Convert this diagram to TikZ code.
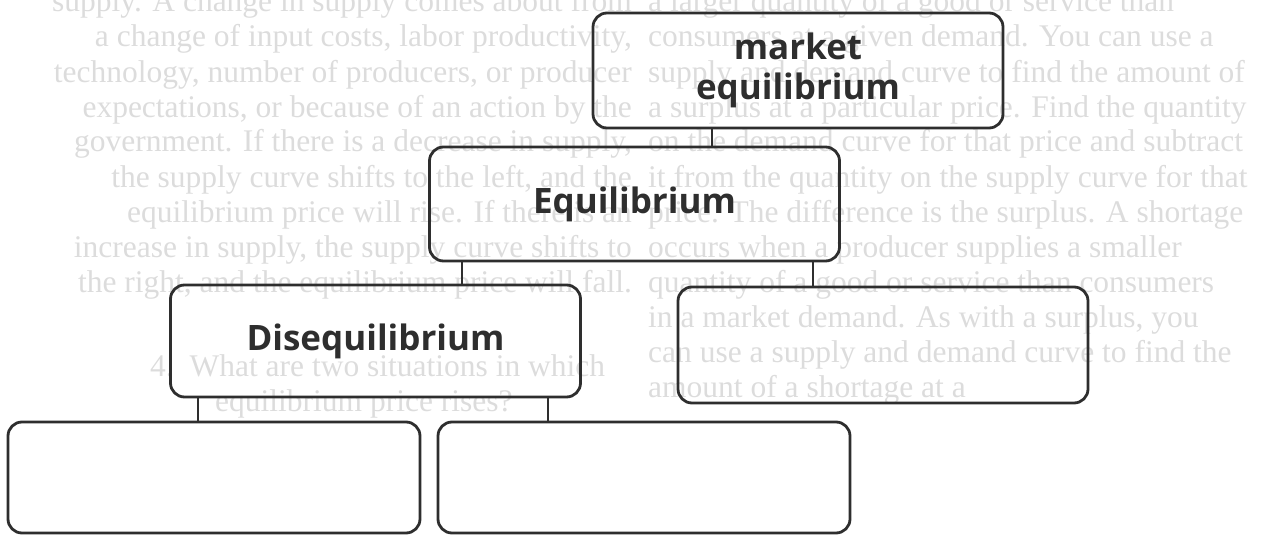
\documentclass[tikz,border=0pt]{standalone}
\usepackage{fontspec}
\setmainfont{Open Sans}
\newfontfamily\ghostfont{Liberation Serif}
\definecolor{boxgray}{HTML}{2E2E2E}
\definecolor{ghostgray}{HTML}{DCDCDC}

\begin{document}
\begin{tikzpicture}[x=1pt,y=-1pt,line join=bevel,
  box/.style={draw=boxgray,line width=2.8pt,rounded corners=14pt,inner sep=0pt,
    minimum width=410pt,text=boxgray,align=center,
    font=\fontsize{35}{42}\selectfont\bfseries},
  link/.style={draw=boxgray,line width=2.8pt},
  ghost/.style={text=ghostgray,inner sep=0pt,font=\ghostfont\fontsize{31.5}{35}\selectfont},
  ]
\useasboundingbox (0,0) rectangle (1266,535);
\clip (0,0) rectangle (1266,535);
%% text showing through from the back of the sheet
\node (ghost_l0) at (632,12) [ghost,anchor=base east] {supply. A change in supply comes about from};
\node (ghost_l1) at (632,47) [ghost,anchor=base east] {a change of input costs, labor productivity,};
\node (ghost_l2) at (632,82) [ghost,anchor=base east] {technology, number of producers, or producer};
\node (ghost_l3) at (632,117) [ghost,anchor=base east] {expectations, or because of an action by the};
\node (ghost_l4) at (632,151) [ghost,anchor=base east] {government. If there is a decrease in supply,};
\node (ghost_l5) at (632,187) [ghost,anchor=base east] {the supply curve shifts to the left, and the};
\node (ghost_l6) at (632,222) [ghost,anchor=base east] {equilibrium price will rise. If there is an};
\node (ghost_l7) at (632,257) [ghost,anchor=base east] {increase in supply, the supply curve shifts to};
\node (ghost_l8) at (632,292) [ghost,anchor=base east] {the right, and the equilibrium price will fall.};
\node (ghost_q0) at (150,376) [ghost,anchor=base west] {4.\ \ What are two situations in which};
\node (ghost_q1) at (215,411) [ghost,anchor=base west] {equilibrium price rises?};
%
\node (ghost_r0) at (648,12) [ghost,anchor=base west] {a larger quantity of a good or service than};
\node (ghost_r1) at (648,47) [ghost,anchor=base west] {consumers at a given demand. You can use a};
\node (ghost_r2) at (648,82) [ghost,anchor=base west] {supply and demand curve to find the amount of};
\node (ghost_r3) at (648,117) [ghost,anchor=base west] {a surplus at a particular price. Find the quantity};
\node (ghost_r4) at (648,151) [ghost,anchor=base west] {on the demand curve for that price and subtract};
\node (ghost_r5) at (648,187) [ghost,anchor=base west] {it from the quantity on the supply curve for that};
\node (ghost_r6) at (648,222) [ghost,anchor=base west] {price. The difference is the surplus. A shortage};
\node (ghost_r7) at (648,257) [ghost,anchor=base west] {occurs when a producer supplies a smaller};
\node (ghost_r8) at (648,292) [ghost,anchor=base west] {quantity of a good or service than consumers};
\node (ghost_r9) at (648,327) [ghost,anchor=base west] {in a market demand. As with a surplus, you};
\node (ghost_r10) at (648,362) [ghost,anchor=base west] {can use a supply and demand curve to find the};
\node (ghost_r11) at (648,397) [ghost,anchor=base west] {amount of a shortage at a};
%% concept map
\node (node_0) at (798,70.5) [box,minimum height=115pt] {market\\[-2pt]equilibrium};
\node (node_1) at (634.5,204) [box,minimum height=114pt] {Equilibrium};
\node (node_2) at (375.5,341) [box,minimum height=112pt] {Disequilibrium};
\node (node_3) at (883,345) [box,minimum height=116pt] {};
\node (node_4) at (214,477.5) [box,minimum width=412pt,minimum height=111pt] {};
\node (node_5) at (644,477.5) [box,minimum width=412pt,minimum height=111pt] {};
%
\coordinate (x_01) at (712,0);
\coordinate (x_12) at (462,0);
\coordinate (x_13) at (813,0);
\coordinate (x_24) at (198,0);
\coordinate (x_25) at (548,0);
\draw [link] (node_0.south -| x_01) -- (node_1.north -| x_01);
\draw [link] (node_1.south -| x_12) -- (node_2.north -| x_12);
\draw [link] (node_1.south -| x_13) -- (node_3.north -| x_13);
\draw [link] (node_2.south -| x_24) -- (node_4.north -| x_24);
\draw [link] (node_2.south -| x_25) -- (node_5.north -| x_25);
%
\end{tikzpicture}
\end{document}
